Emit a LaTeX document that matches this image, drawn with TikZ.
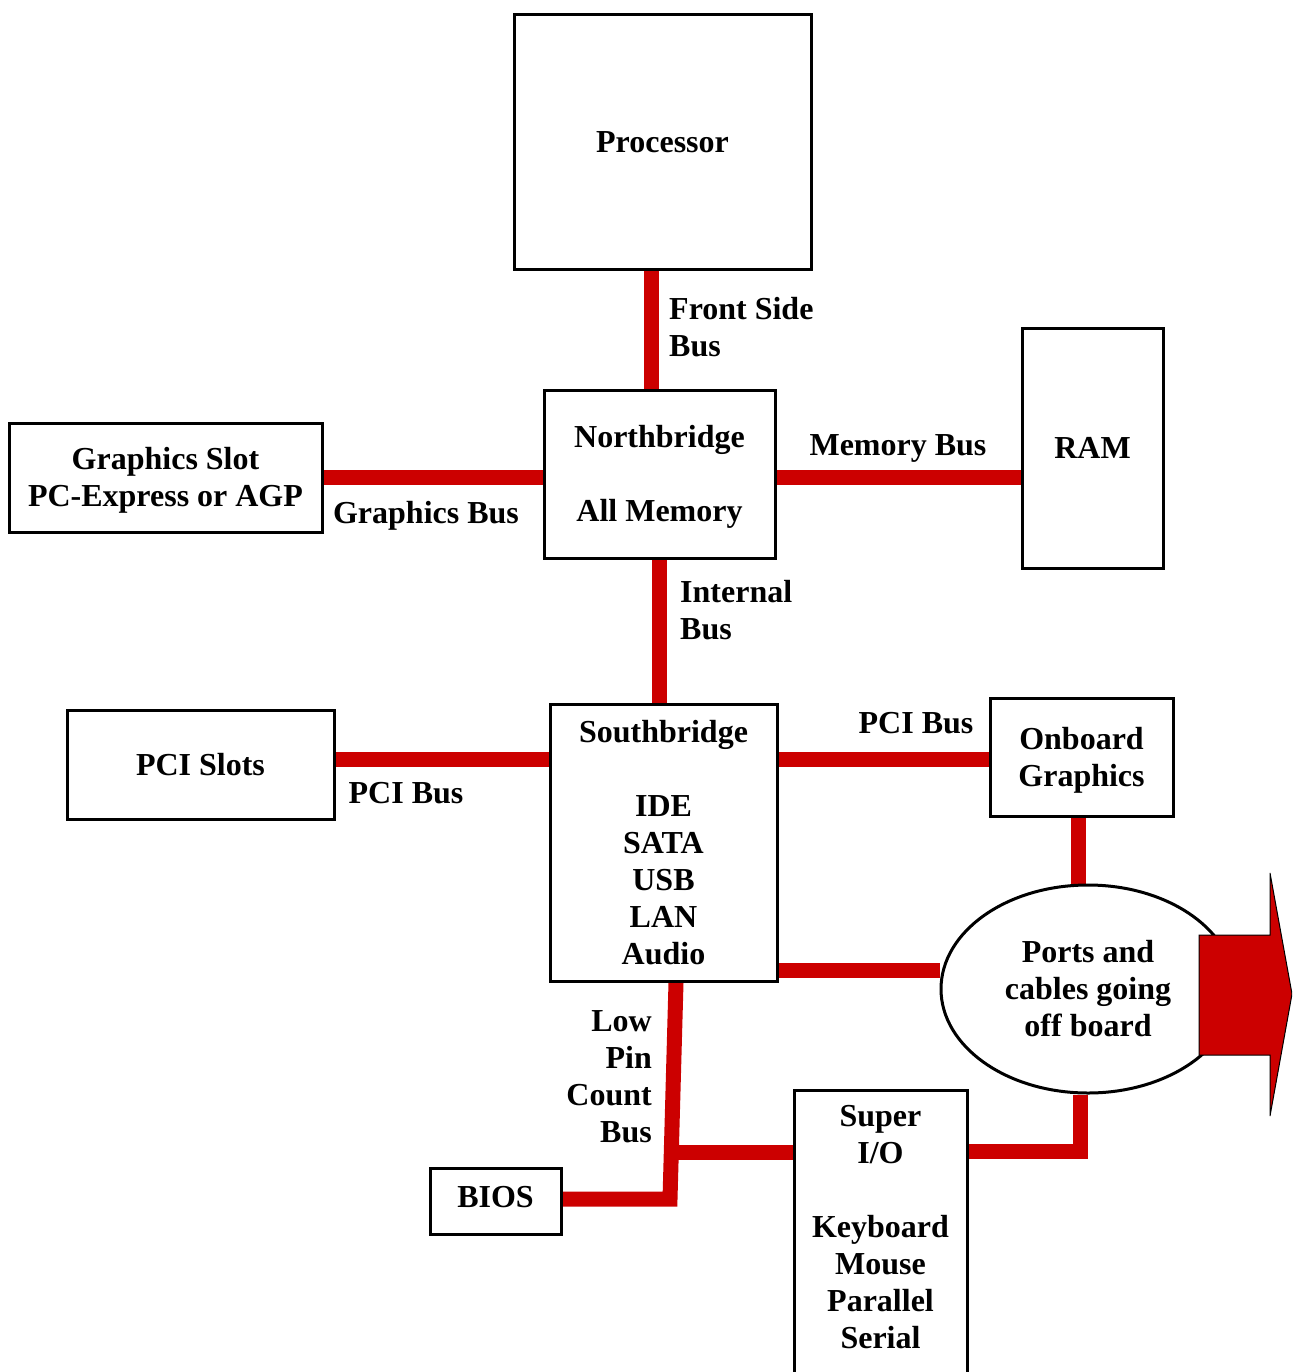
\documentclass[tikz,border=0pt]{standalone}
\usepackage{fontspec}
\setmainfont{Liberation Serif}
\usetikzlibrary{shapes.geometric}
\definecolor{busred}{HTML}{CC0000}
\pgfdeclarelayer{background}
\pgfsetlayers{background,main}
\begin{document}
\begin{tikzpicture}[x=1pt,y=-1pt,
  every node/.style={font=\fontsize{32}{37}\selectfont\bfseries, inner sep=0pt, text height=21pt, text depth=0pt},
  lines2/.style={text height=58pt},
  lines3/.style={text height=95pt},
  lines4/.style={text height=132pt},
  lines7/.style={text height=243pt},
  box/.style={draw, line width=3pt, rectangle, fill=white},
  bus/.style={draw=busred, line width=15pt}]
\useasboundingbox (0,0) rectangle (1292,1372);
\clip (0,0) rectangle (1292,1372);

% boxes
\node[box, minimum width=297pt, minimum height=255pt] (proc) at (662.5,142) {Processor};
\node[box, lines3, minimum width=231pt, minimum height=168pt, align=center] (nb) at (659.5,474) {Northbridge\\[37pt]All Memory};
\node[box, lines2, minimum width=313pt, minimum height=109pt, align=center] (gs) at (165.5,477.5) {Graphics Slot\\PC-Express or AGP};
\node[box, minimum width=141pt, minimum height=240pt] (ram) at (1092.5,448) {RAM};
\node[box, lines7, minimum width=227pt, minimum height=277pt, align=center] (sb) at (663.5,842.5) {Southbridge\\[37pt]IDE\\SATA\\USB\\LAN\\Audio};
\node[box, minimum width=267pt, minimum height=109pt] (pci) at (200.5,764.5) {PCI Slots};
\node[box, lines2, minimum width=183pt, minimum height=118pt, align=center] (og) at (1081.5,757) {Onboard\\Graphics};
\node[box, text depth=8pt, minimum width=131pt, minimum height=66pt] (bios) at (495.5,1201) {BIOS};
\node[box, minimum width=173pt, minimum height=320pt, anchor=north] (sio) at (880.5,1088.5) {};
\node[lines7, align=center] (siotxt) at (880.5,1227) {Super\\I/O\\[37pt]Keyboard\\Mouse\\Parallel\\Serial};
\node[draw, ellipse, lines3, line width=3pt, fill=white, minimum width=294pt, minimum height=208pt, align=center] (ports) at (1088,989) {Ports and\\cables going\\off board};

% bus labels
\node[lines2, align=left, anchor=west] (fsb) at (669,327) {Front Side\\Bus};
\node (gbus) at (426,513) {Graphics Bus};
\node (mbus) at (898,445) {Memory Bus};
\node[lines2, align=left, anchor=west] (ibus) at (680,610) {Internal\\Bus};
\node (pcil) at (406,793) {PCI Bus};
\node (pcir) at (916,723) {PCI Bus};
\node[lines4, align=right, anchor=east] (lpc) at (652,1076) {Low\\Pin\\Count\\Bus};

% off-board arrow
\draw[fill=busred, line width=1pt] (1199,935) -- (1270,935) -- (1270,873) -- (1292,994) -- (1270,1116) -- (1270,1055) -- (1199,1055) -- cycle;

\coordinate (lpcj) at (671.5,1152);
\begin{pgfonlayer}{background}
\draw[bus] (proc.south -| 651,0) -- (nb.north -| 651,0);
\draw[bus] (gs.east |- 0,477) -- (nb.west |- 0,477);
\draw[bus] (nb.east |- 0,477) -- (ram.west |- 0,477);
\draw[bus] (nb.south -| 659,0) -- (sb.north -| 659,0);
\draw[bus] (pci.east |- 0,759) -- (sb.west |- 0,759);
\draw[bus] (sb.east |- 0,759) -- (og.west |- 0,759);
\draw[bus] (og.south -| 1078,0) -- (ports.north -| 1078,0);
\draw[bus] (sb.east |- 0,970) -- (ports.west |- 0,970);
\draw[bus] (sio.east |- 0,1151) -| (ports.south -| 1080,0);
\draw[bus] (sb.south -| 676,0) -- (670,1199) -- (bios.east |- 0,1199);
\draw[bus] (lpcj) -- (sio.west |- 0,1152);
\end{pgfonlayer}
\end{tikzpicture}
\end{document}
